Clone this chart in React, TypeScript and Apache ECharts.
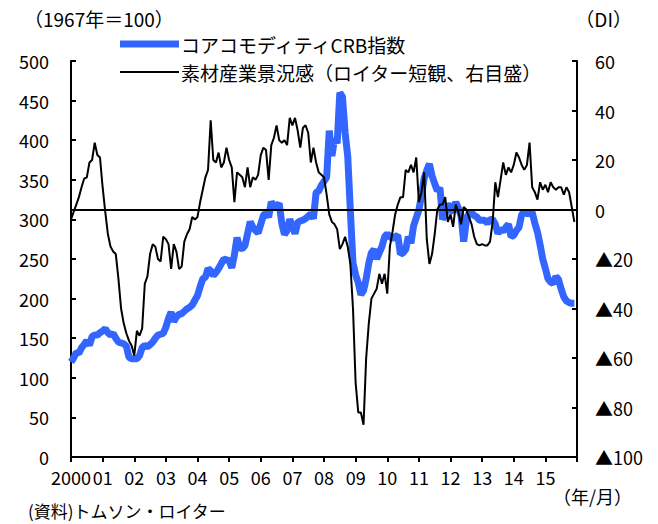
import React, { useEffect, useRef } from "react";
import * as echarts from "echarts";

// Monthly, Jan 2000 .. Dec 2015
const crbIndex: number[] = [
  120, 125, 132, 131, 138, 142, 147, 141, 152, 154, 154, 157,
  159, 162, 157, 154, 156, 150, 145, 144, 143, 140, 126, 124,
  124, 124, 128, 138, 141, 139, 142, 145, 150, 154, 155, 156,
  164, 175, 183, 171, 177, 180, 181, 184, 187, 189, 192, 198,
  204, 215, 225, 227, 238, 235, 229, 233, 238, 244, 250, 249,
  248, 239, 255, 277, 264, 263, 267, 282, 297, 290, 286, 283,
  294, 305, 308, 303, 322, 317, 317, 320, 295, 281, 286, 300,
  292, 282, 296, 298, 299, 301, 304, 307, 301, 334, 336, 343,
  348, 353, 412, 380, 402, 396, 460, 455, 410, 380, 311, 245,
  230, 220, 205, 210, 225, 245, 258, 262, 250, 258, 266, 278,
  282, 278, 276, 278, 280, 256, 258, 262, 278, 270, 292, 302,
  312, 330, 352, 362, 370, 355, 345, 336, 340, 300, 307, 320,
  312, 310, 322, 314, 305, 272, 298, 308, 308, 305, 303, 299,
  299, 299, 295, 300, 300, 294, 282, 288, 285, 290, 294, 278,
  280, 286, 290, 306, 309, 307, 308, 309, 295, 284, 268, 250,
  238, 225, 221, 219, 228, 224, 212, 202, 197, 195, 194, 194,
];

const materialsDI: number[] = [
  -4, -1, 2, 5, 9, 12.5, 13, 19, 20, 27, 22, 21,
  9, -1, -10, -15, -17, -18, -28, -40, -46, -50, -53, -55,
  -59, -49, -51, -48, -30, -27, -18, -14, -15, -20, -21, -11,
  -12, -14, -24, -14, -17, -24, -23, -13, -10, -8, -3, -4,
  -3, 3, 8, 13, 16, 36, 20, 19, 23, 17, 19, 25,
  20, 17, 3, 15, 14, 13, 9, 17, 9, 13, 12, 14,
  22, 25, 24, 12, 26, 29, 34, 28, 27, 28, 26, 37,
  34, 37, 32, 25, 33, 34, 31, 19, 25, 19, 15, 14,
  13, 6, -2, -5, -6, -8, -16, -14, -11, -15, -22, -40,
  -70, -82, -82, -87, -60, -46, -36, -34, -32, -26, -30, -26,
  -34, -15, -9, -2, 2, 5, 5, 16, 15, 18, 15, 21,
  3, 7, 15, -12, -22, -18, -10, 0, 2, 2, 5, -5,
  -2, -7, 2, -1, -6, 1, 0, -3, -6, -11, -14, -14.5,
  -14, -14.5, -14.5, -13, -5, 11, 5, 12, 19, 14, 17, 15,
  18, 23, 21, 18, 16, 18, 27, 9, 7, 4, 11, 8,
  10, 7, 11, 9, 8, 9, 9, 6, 9, 7, 1, -5,
];

const yearLabels: string[] = [
  "2000", "01", "02", "03", "04", "05", "06", "07",
  "08", "09", "10", "11", "12", "13", "14", "15", "",
];

const seriesNames = ["コアコモディティCRB指数", "素材産業景況感（ロイター短観、右目盛）"];

const FONT = "'Noto Sans CJK JP', 'Noto Sans', sans-serif";
const FS = 18;
const BLUE = "#3366ff";

export default function App() {
  const ref = useRef<HTMLDivElement>(null);
  useEffect(() => {
    if (!ref.current) return;
    const chart = echarts.init(ref.current, undefined, { renderer: "svg" });
    const textStyle = { fontFamily: FONT, fontSize: 19, fill: "#000" };
    chart.setOption({
      animation: false,
      backgroundColor: "#fff",
      textStyle: { fontFamily: FONT },
      grid: { left: 71, right: 81, top: 61, bottom: 67, containLabel: false },
      xAxis: {
        type: "value",
        min: 0,
        max: 192,
        interval: 12,
        axisLine: { onZero: false, lineStyle: { color: "#000", width: 2 } },
        axisTick: { show: true, inside: false, length: 5, lineStyle: { color: "#000", width: 2 } },
        axisLabel: {
          color: "#000",
          fontSize: FS,
          fontFamily: FONT,
          margin: 11,
          showMaxLabel: true,
          formatter: (v: number) => yearLabels[Math.round(v / 12)] ?? "",
        },
        splitLine: { show: false },
      },
      yAxis: [
        {
          type: "value",
          min: 0,
          max: 500,
          interval: 50,
          position: "left",
          axisLine: { show: true, lineStyle: { color: "#000", width: 2 } },
          axisTick: { show: true, inside: true, length: 5, lineStyle: { color: "#000", width: 2 } },
          axisLabel: { color: "#000", fontSize: FS, fontFamily: FONT, margin: 22 },
          splitLine: { show: false },
        },
        {
          type: "value",
          min: -100,
          max: 60,
          interval: 20,
          position: "right",
          axisLine: { show: true, lineStyle: { color: "#000", width: 2 } },
          axisTick: { show: true, inside: true, length: 5, lineStyle: { color: "#000", width: 2 } },
          axisLabel: {
            color: "#000",
            fontSize: FS,
            fontFamily: FONT,
            margin: 18,
            formatter: (v: number) => (v < 0 ? "▲" + Math.abs(v) : String(v)),
          },
          splitLine: { show: false },
        },
      ],
      series: [
        {
          name: seriesNames[0],
          type: "line",
          yAxisIndex: 0,
          symbol: "none",
          data: crbIndex.map((v, i) => [i, v]),
          lineStyle: { color: BLUE, width: 7 },
          itemStyle: { color: BLUE },
          z: 2,
        },
        {
          name: seriesNames[1],
          type: "line",
          yAxisIndex: 1,
          symbol: "none",
          data: materialsDI.map((v, i) => [i, v]),
          lineStyle: { color: "#000", width: 2 },
          itemStyle: { color: "#000" },
          z: 3,
          markLine: {
            silent: true,
            symbol: "none",
            label: { show: false },
            lineStyle: { color: "#000", width: 2, type: "solid" },
            data: [{ yAxis: 0 }],
          },
        },
      ],
      graphic: [
        { type: "text", x: 24, y: 18, style: { ...textStyle, text: "（1967年＝100）", verticalAlign: "middle" } },
        { type: "text", x: 632, y: 18, style: { ...textStyle, text: "（DI）", align: "right", verticalAlign: "middle" } },
        { type: "line", shape: { x1: 120, y1: 44, x2: 179, y2: 44 }, style: { stroke: BLUE, lineWidth: 7 } },
        { type: "text", x: 181, y: 44, style: { ...textStyle, text: seriesNames[0], verticalAlign: "middle" } },
        { type: "line", shape: { x1: 120, y1: 72, x2: 179, y2: 72 }, style: { stroke: "#000", lineWidth: 2 } },
        { type: "text", x: 181, y: 72, style: { ...textStyle, text: seriesNames[1], verticalAlign: "middle" } },
        { type: "text", x: 632, y: 496, style: { ...textStyle, fontSize: 18, text: "（年/月）", align: "right", verticalAlign: "middle" } },
        { type: "text", x: 28, y: 510, style: { ...textStyle, fontSize: 17, text: "(資料)トムソン・ロイター", verticalAlign: "middle" } },
      ],
    });
    return () => chart.dispose();
  }, []);
  return (
    <div
      ref={ref}
      style={{ position: "fixed", left: 0, top: 0, width: 658, height: 524, background: "#fff" }}
    />
  );
}
